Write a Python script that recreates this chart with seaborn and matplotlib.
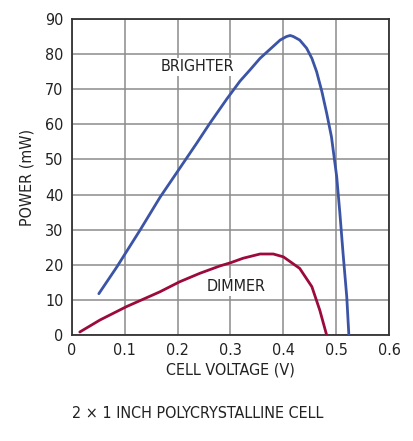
import numpy as np
import pandas as pd
import matplotlib
matplotlib.use('Agg')
import matplotlib.pyplot as plt
import seaborn as sns

# Values
bright_v = [0.051, 0.085, 0.129, 0.167, 0.204, 0.236, 0.261, 0.293, 0.318, 0.337, 0.356,
            0.375, 0.394, 0.406, 0.413, 0.419, 0.431, 0.444, 0.454, 0.463, 0.473, 0.482,
            0.491, 0.501, 0.507, 0.513, 0.520, 0.524]
bright_p = [11.8, 19.4, 29.9, 39.3, 47.5, 54.6, 60.3, 67.2, 72.3, 75.5, 78.8,
            81.4, 84.0, 85.0, 85.3, 85.0, 84.0, 81.7, 78.8, 75.0, 69.3, 63.2,
            56.5, 45.1, 34.7, 23.3, 10.9, 0.0]

dim_v = [0.015, 0.053, 0.103, 0.166, 0.204, 0.242, 0.280, 0.300, 0.324, 0.356, 0.381,
         0.400, 0.431, 0.454, 0.469, 0.482]
dim_p = [0.9, 4.3, 8.1, 12.3, 15.2, 17.6, 19.7, 20.6, 21.9, 23.1, 23.1,
         22.3, 19.0, 13.8, 7.1, 0.0]

x_ticks = [0, 0.1, 0.2, 0.3, 0.4, 0.5, 0.6]
x_labels = ['0', '0.1', '0.2', '0.3', '0.4', '0.5', '0.6']
y_ticks = [0, 10, 20, 30, 40, 50, 60, 70, 80, 90]

sns.set_style('white')
plt.rcParams['font.family'] = ['DejaVu Sans']
plt.rcParams['font.stretch'] = 'condensed'

df = pd.concat([
    pd.DataFrame({'v': bright_v, 'p': bright_p, 'curve': 'BRIGHTER'}),
    pd.DataFrame({'v': dim_v, 'p': dim_p, 'curve': 'DIMMER'}),
])

fig = plt.figure(figsize=(4.13, 4.41), dpi=100)
ax = fig.add_axes([0.174, 0.240, 0.768, 0.717])

sns.lineplot(data=df, x='v', y='p', hue='curve', sort=False,
             palette={'BRIGHTER': '#3b54a5', 'DIMMER': '#9c0a3d'},
             linewidth=2.0, legend=False, ax=ax, zorder=3)
for ln in ax.get_lines():
    ln.set_solid_joinstyle('round')

ax.set_xlim(0, 0.6)
ax.set_ylim(0, 90)
ax.set_xticks(x_ticks)
ax.set_xticklabels(x_labels)
ax.set_yticks(y_ticks)
ax.grid(True, color='#8c8c8c', linewidth=1.1)
for s in ax.spines.values():
    s.set_color('#333333')
    s.set_linewidth(1.3)
ax.tick_params(axis='both', length=0, labelsize=11.5, colors='#222222', pad=6)

ax.set_xlabel('CELL VOLTAGE (V)', fontsize=11.5, color='#222222', labelpad=3)
ax.set_ylabel('POWER (mW)', fontsize=11.5, color='#222222', labelpad=8)

ax.text(0.238, 76.4, 'BRIGHTER', fontsize=11.5, color='#222222', ha='center', va='center',
        bbox=dict(facecolor='white', edgecolor='none', pad=1), zorder=2.5)
ax.text(0.311, 13.8, 'DIMMER', fontsize=11.5, color='#222222', ha='center', va='center',
        bbox=dict(facecolor='white', edgecolor='none', pad=1), zorder=2.5)

fig.text(72 / 413, 1 - 413 / 441, '2 \u00d7 1 INCH POLYCRYSTALLINE CELL', fontsize=11.5,
         color='#222222', ha='left', va='center')

fig.savefig('out.png', dpi=100)
